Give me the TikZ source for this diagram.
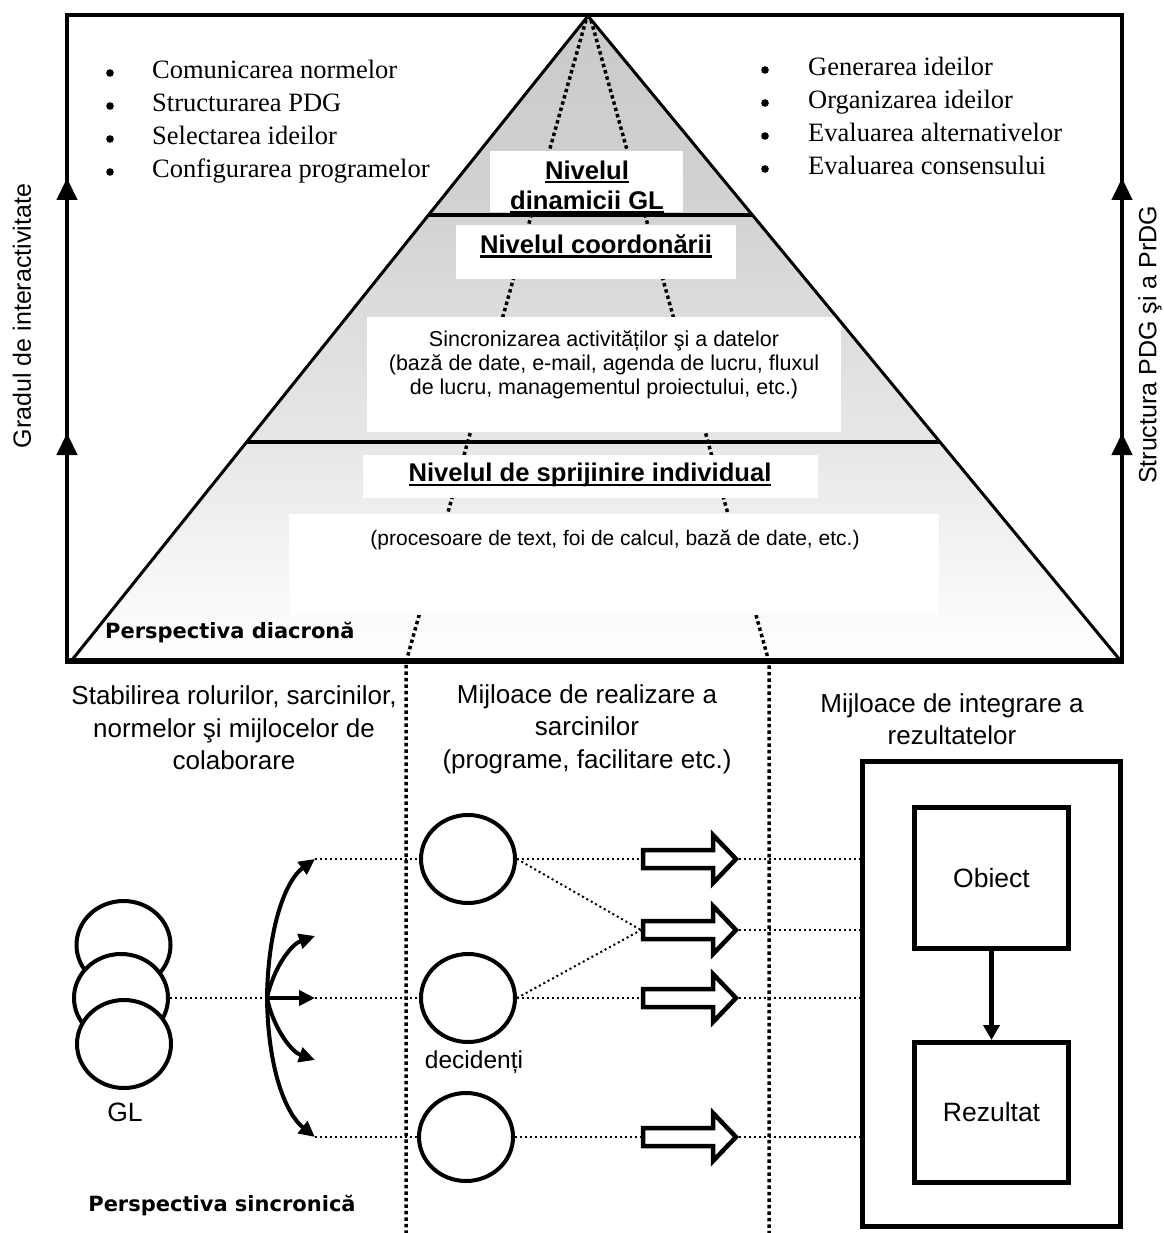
\documentclass[tikz,border=0pt]{standalone}
\usepackage{fontspec}
\setmainfont{Liberation Serif}
\newfontfamily\arialf{Liberation Sans}
\newfontfamily\dejaf{DejaVu Sans}
\usetikzlibrary{arrows.meta,shapes.geometric,calc}
\pgfdeclareverticalshading{pyrshade}{100bp}{color(0bp)=(white); color(25bp)=(white); color(29.7bp)=(gray!5); color(37.4bp)=(gray!14); color(42bp)=(gray!19); color(53bp)=(gray!28); color(59.5bp)=(gray!35); color(75bp)=(gray!42); color(100bp)=(gray!42)}
\newcommand\myul[1]{\setbox0\hbox{#1}\rlap{\rule[-4.2pt]{\wd0}{2.3pt}}\box0}
\newcommand\hollowarrow[2]{%
  \draw[hollowarr] (643,#2-9) -- (713,#2-9) -- (713,#2-24) -- (736,#2) -- (713,#2+24) -- (713,#2+9) -- (643,#2+9) -- cycle;
  \coordinate (#1l) at (641,#2);
  \coordinate (#1r) at (739,#2);}
\begin{document}
\begin{tikzpicture}[x=1pt,y=-1pt,
  framestyle/.style={line width=4.5pt},
  pyrline/.style={line width=3pt, line join=miter},
  bigdot/.style={line width=3.5pt, dash pattern=on 3.5pt off 3pt},
  thindot/.style={line width=2pt, dash pattern=on 2pt off 3pt},
  wbox/.style={fill=white, draw=none, inner sep=0pt},
  lvl/.style={font=\arialf\bfseries\fontsize{25.6}{30}\selectfont, inner sep=0pt, align=center},
  smalltxt/.style={font=\arialf\fontsize{21.5}{24}\selectfont, align=center, inner sep=0pt},
  bul/.style={font=\fontsize{26.5}{33}\selectfont, anchor=base west, inner sep=0pt},
  coltitle/.style={font=\arialf\fontsize{26}{32.5}\selectfont, align=center, inner sep=0pt},
  labtxt/.style={font=\arialf\fontsize{26.5}{32}\selectfont, inner sep=0pt},
  sidetxt/.style={font=\arialf\fontsize{25}{30}\selectfont, inner sep=0pt},
  persp/.style={font=\dejaf\bfseries\fontsize{21}{25}\selectfont, inner sep=0pt},
  ring/.style={ellipse, draw, line width=4pt, fill=white, inner sep=0pt, minimum width=94pt, minimum height=88pt},
  sqbox/.style={draw, line width=5pt, inner sep=0pt, font=\arialf\fontsize{26.5}{32}\selectfont},
  fanarrow/.style={line width=4pt, -{Triangle[length=16pt,width=15pt]}},
  hollowarr/.style={draw, line width=4.5pt, fill=white, line join=miter},
  axisarrow/.style={line width=4.5pt, -{Triangle[length=22pt,width=20pt]}}
]
\useasboundingbox (0,0) rectangle (1163,1233);

% pyramid shading
\coordinate (apex) at (588,16);
\coordinate (bl) at (72,660);
\coordinate (br) at (1120,660);
\begin{scope}
  \clip (bl) -- (apex) -- (br) -- cycle;
  \shade[shading=pyrshade] (72,16) rectangle (1120,660);
\end{scope}

% dotted guide lines and column separators
\coordinate (sepL) at (406,1233);
\coordinate (sepR) at (769,1233);
\draw[bigdot] (586,20) -- (406,662) -- (sepL);
\draw[bigdot] (591,20) -- (769,662) -- (sepR);

% white boxes
\node[wbox, minimum width=193pt, minimum height=61pt] (glbox) at (586.5,181.5) {};
\node[wbox, minimum width=280pt, minimum height=54pt] (cobox) at (596,252) {};
\node[wbox, minimum width=474pt, minimum height=115pt] (sibox) at (604,374.5) {};
\node[wbox, minimum width=455pt, minimum height=43pt] (spbox) at (590.5,476.5) {};
\node[wbox, minimum width=650pt, minimum height=101pt] (prbox) at (614,564.5) {};

% level texts
\node[lvl] (gltxt) at (587,187) {\myul{Nivelul}\\\myul{dinamicii GL}};
\node[lvl] (cotxt) at (596,246) {\myul{Nivelul coordonării}};
\node[smalltxt] (sitxt) at (604,365) {Sincronizarea activităților şi a datelor\\(bază de date, e-mail, agenda de lucru, fluxul\\de lucru, managementul proiectului, etc.)};
\node[lvl] (sptxt) at (590,475) {\myul{Nivelul de sprijinire individual}};
\node[smalltxt, font=\arialf\fontsize{21}{24}\selectfont] (prtxt) at (615,540) {(procesoare de text, foi de calcul, bază de date, etc.)};
\node[persp, anchor=west] (pdia) at (105,632) {Perspectiva diacronă};

% pyramid outline and dividers
\draw[pyrline] (bl) -- (apex) -- (br);
\draw[line width=3.5pt] ($(apex)!0.309!(bl)$) -- ($(apex)!0.309!(br)$);
\draw[line width=3.5pt] ($(apex)!0.6615!(bl)$) -- ($(apex)!0.6615!(br)$);

% frame
\draw[framestyle] (67,661) -- (67,15) -- (1122,15) -- (1122,661);
\draw[line width=6pt] (64.75,661) -- (1124.25,661);
\draw[axisarrow] (67,230) -- (67,178);
\draw[axisarrow] (67,485) -- (67,433);
\draw[axisarrow] (1122,230) -- (1122,178);
\draw[axisarrow] (1122,485) -- (1122,433);

% bullets
\node[bul] (b1) at (152,79) {Comunicarea normelor};
\node[bul] (b2) at (152,112) {Structurarea PDG};
\node[bul] (b3) at (152,145) {Selectarea ideilor};
\node[bul] (b4) at (152,178) {Configurarea programelor};
\foreach \n in {b1,b2,b3,b4} \fill ($(\n.base west)+(-42,-6)$) circle[radius=3.8pt];
\node[bul] (r1) at (808,76) {Generarea ideilor};
\node[bul] (r2) at (808,109) {Organizarea ideilor};
\node[bul] (r3) at (808,142) {Evaluarea alternativelor};
\node[bul] (r4) at (808,175) {Evaluarea consensului};
\foreach \n in {r1,r2,r3,r4} \fill ($(\n.base west)+(-43,-6)$) circle[radius=3.8pt];

% side labels
\node[sidetxt, rotate=90] (gradul) at (22,316) {Gradul de interactivitate};
\node[sidetxt, rotate=90] (struct) at (1150,345) {Structura PDG şi a PrDG};

% column titles
\node[coltitle] (c1) at (234,728) {Stabilirea rolurilor, sarcinilor,\\normelor şi mijlocelor de\\colaborare};
\node[coltitle] (c2) at (587,729) {Mijloace de realizare a\\sarcinilor\\(programe, facilitare etc.)};
\node[coltitle] (c3) at (952,719) {Mijloace de integrare a\\rezultatelor};

% GL group
\node[ring] (g1) at (123.5,945) {};
\node[ring] (g2) at (121,998) {};
\node[ring] (g3) at (124,1044) {};
\node[labtxt] (gl) at (125,1112) {GL};

% fan of arrows
\coordinate (fo) at (267,998);
\coordinate (f1) at (315,859);
\coordinate (f2) at (315,936);
\coordinate (f3) at (315,998);
\coordinate (f4) at (315,1060);
\coordinate (f5) at (315,1137);
\draw[thindot] (g2.east) -- (fo);
\draw[fanarrow] (fo) .. controls (268,926) and (286,880) .. (f1);
\draw[fanarrow] (fo) .. controls (274,966) and (292,944) .. (f2);
\draw[fanarrow] (fo) -- (f3);
\draw[fanarrow] (fo) .. controls (274,1030) and (292,1052) .. (f4);
\draw[fanarrow] (fo) .. controls (268,1070) and (286,1114) .. (f5);

% decision makers
\node[ring] (d1) at (468,859) {};
\node[ring] (d2) at (468,998) {};
\node[ring] (d3) at (466,1137) {};
\node[labtxt, font=\arialf\fontsize{24.5}{30}\selectfont] (dec) at (474,1062) {decidenți};
\draw[thindot] (f1) -- (d1.west);
\draw[thindot] (f3) -- (d2.west);
\draw[thindot] (f5) -- (d3.west);

% hollow arrows
\hollowarrow{a1}{859}
\hollowarrow{a2}{930}
\hollowarrow{a3}{998}
\hollowarrow{a4}{1137}
\draw[thindot] (d1.east) -- (a1l);
\draw[thindot] (d1.east) -- (a2l);
\draw[thindot] (d2.east) -- (a2l);
\draw[thindot] (d2.east) -- (a3l);
\draw[thindot] (d3.east) -- (a4l);

% integration box
\node[sqbox, minimum width=258pt, minimum height=465pt] (outer) at (991.5,994) {};
\node[sqbox, minimum width=154pt, minimum height=141pt] (obj) at (991.5,878) {Obiect};
\node[sqbox, minimum width=154pt, minimum height=140pt] (rez) at (991.5,1112.5) {Rezultat};
\draw[line width=4.5pt, -{Triangle[length=15pt,width=16pt]}] (obj.south) -- (rez.north);
\foreach \a in {a1,a2,a3,a4} \draw[thindot] (\a r) -- (\a r -| outer.west);

\node[persp] (psin) at (222,1205) {Perspectiva sincronică};
\end{tikzpicture}
\end{document}
